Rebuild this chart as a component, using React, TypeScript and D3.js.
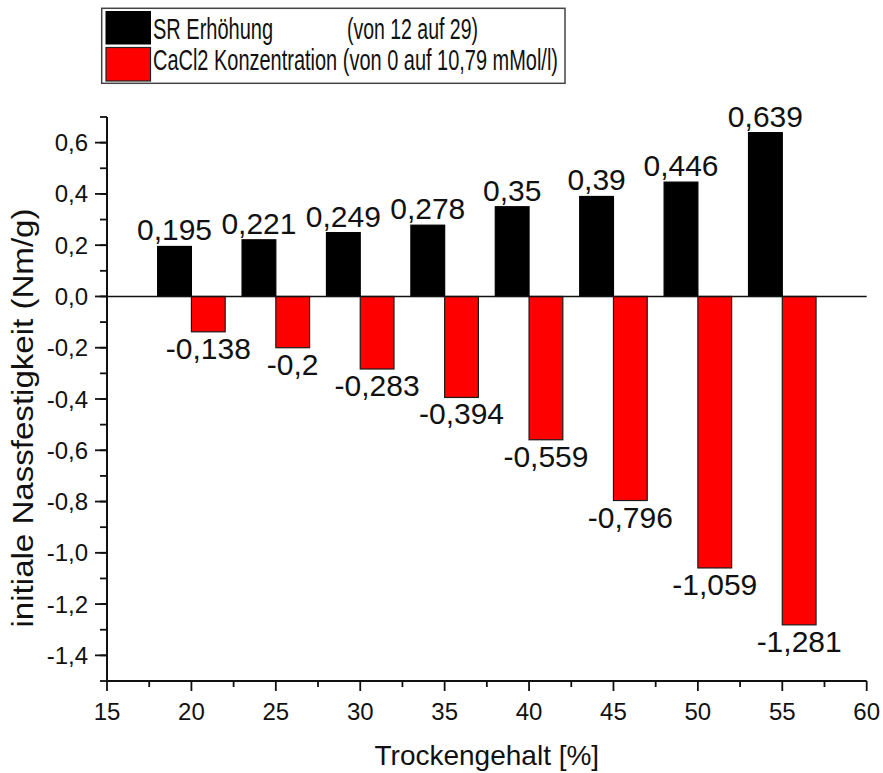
import React from "react";
import * as d3 from "d3";

const categories = [20, 25, 30, 35, 40, 45, 50, 55];
const srValues = [0.195, 0.221, 0.249, 0.278, 0.35, 0.39, 0.446, 0.639];
const caValues = [-0.138, -0.2, -0.283, -0.394, -0.559, -0.796, -1.059, -1.281];
const xTicks = [15, 20, 25, 30, 35, 40, 45, 50, 55, 60];
const yTicks = [-1.4, -1.2, -1.0, -0.8, -0.6, -0.4, -0.2, 0.0, 0.2, 0.4, 0.6];
const legendLabels = ["SR Erhöhung", "CaCl2 Konzentration"];
const legendNotes = ["(von 12 auf 29)", "(von 0 auf 10,79 mMol/l)"];
const xTitle = "Trockengehalt [%]";
const yTitle = "initiale Nassfestigkeit (Nm/g)";

const W = 883;
const H = 773;
const FONT = "'Liberation Sans', Arial, Helvetica, sans-serif";

const fmt = (v: number, digits = 1) =>
  v.toFixed(digits).replace(".", ",").replace(/^-0,0$/, "0,0");
const fmtVal = (v: number) => String(v).replace(".", ",");

export default function App() {
  const x = d3.scaleLinear().domain([15, 60]).range([107, 866.7]);
  const y = d3.scaleLinear().domain([-1.5, 0.7]).range([681, 117]);
  const barW = x(17) - x(15);

  const minorY = d3.range(-15, 8).map((i) => i / 10);
  const minorX = d3.range(0, 9).map((i) => 17.5 + i * 5);

  return (
    <div style={{ position: "absolute", left: 0, top: 0 }}>
      <svg width={W} height={H} style={{ display: "block", background: "#fff" }} fontFamily={FONT}>
        <rect width={W} height={H} fill="#fff" />
        {categories.map((c, i) => (
          <g key={c}>
            <rect
              x={x(c) - barW}
              y={y(srValues[i])}
              width={barW}
              height={y(0) - y(srValues[i])}
              fill="#000"
              stroke="#000"
              strokeWidth={1.2}
            />
            <rect
              x={x(c)}
              y={y(0)}
              width={barW}
              height={y(caValues[i]) - y(0)}
              fill="#ff0000"
              stroke="#1a1a1a"
              strokeWidth={1.2}
            />
            <text x={x(c) - barW / 2} y={y(srValues[i]) - 6} fontSize={30} textAnchor="middle" fill="#111">
              {fmtVal(srValues[i])}
            </text>
            <text x={x(c) + barW / 2} y={y(caValues[i]) + 27} fontSize={30} textAnchor="middle" fill="#111">
              {fmtVal(caValues[i])}
            </text>
          </g>
        ))}
        <line x1={x(15)} x2={x(60)} y1={y(0)} y2={y(0)} stroke="#111" strokeWidth={1.6} />

        <line x1={x(15)} x2={x(15)} y1={y(0.7)} y2={y(-1.5)} stroke="#111" strokeWidth={2} />
        {minorY.map((v) => (
          <line key={"my" + v} x1={x(15) - 7} x2={x(15)} y1={y(v)} y2={y(v)} stroke="#111" strokeWidth={1.8} />
        ))}
        {yTicks.map((v) => (
          <g key={"y" + v}>
            <line x1={x(15) - 12} x2={x(15)} y1={y(v)} y2={y(v)} stroke="#111" strokeWidth={1.8} />
            <text x={88} y={y(v) + 8.5} fontSize={24} textAnchor="end" fill="#111">
              {fmt(v)}
            </text>
          </g>
        ))}

        <line x1={x(15) - 1} x2={x(60)} y1={y(-1.5)} y2={y(-1.5)} stroke="#111" strokeWidth={2} />
        {minorX.map((v) => (
          <line key={"mx" + v} x1={x(v)} x2={x(v)} y1={y(-1.5)} y2={y(-1.5) + 6} stroke="#111" strokeWidth={1.8} />
        ))}
        {xTicks.map((v) => (
          <g key={"x" + v}>
            <line x1={x(v)} x2={x(v)} y1={y(-1.5)} y2={y(-1.5) + 10} stroke="#111" strokeWidth={1.8} />
            <text x={x(v)} y={720} fontSize={24} textAnchor="middle" fill="#111">
              {v}
            </text>
          </g>
        ))}

        <text x={(x(15) + x(60)) / 2} y={765} fontSize={28} textAnchor="middle" fill="#111">
          {xTitle}
        </text>
        <text
          transform={`translate(33, 418) rotate(-90)`}
          fontSize={30}
          textAnchor="middle"
          fill="#111"
          textLength={419}
          lengthAdjust="spacingAndGlyphs"
        >
          {yTitle}
        </text>

        <rect x={101.7} y={8.3} width={463.3} height={75} fill="#fff" stroke="#444" strokeWidth={1.5} />
        <rect x={106} y={11.5} width={44.5} height={32.5} fill="#000" stroke="#000" strokeWidth={1} />
        <rect x={106} y={47.5} width={44.5} height={33.5} fill="#ff0000" stroke="#222" strokeWidth={1.2} />
        <text x={153} y={38.5} fontSize={29} fill="#111" textLength={120} lengthAdjust="spacingAndGlyphs">
          {legendLabels[0]}
        </text>
        <text x={347} y={38.5} fontSize={29} fill="#111" textLength={131} lengthAdjust="spacingAndGlyphs">
          {legendNotes[0]}
        </text>
        <text x={153} y={69.5} fontSize={29} fill="#111" textLength={405} lengthAdjust="spacingAndGlyphs">
          {legendLabels[1] + " " + legendNotes[1]}
        </text>
      </svg>
    </div>
  );
}
